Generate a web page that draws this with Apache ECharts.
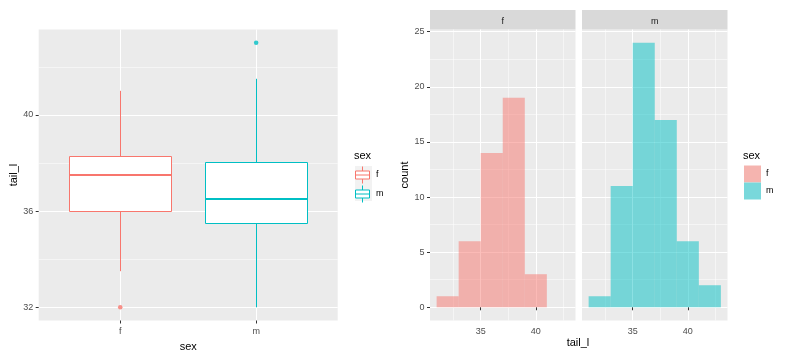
<!DOCTYPE html>
<html><head><meta charset="utf-8">
<script src="https://cdn.jsdelivr.net/npm/echarts@6/dist/echarts.min.js"></script>
<style>html,body{margin:0;padding:0;background:#fff}#c{width:792px;height:360px}</style>
</head><body><div id="c"></div>
<script>
// ---- data ----
const sexes = ['f', 'm'];
const colors = ['#F8766D', '#00BFC4'];
const histFill = ['rgba(248,118,109,0.5)', 'rgba(0,191,196,0.5)'];
const legendFill = ['#F5B4AF', '#79D8DB'];
// boxplot stats: [lower whisker, Q1, median, Q3, upper whisker]
const boxF = [33.5, 36, 37.5, 38.25, 41];
const boxM = [32, 35.5, 36.5, 38, 41.5];
const outliersF = [32];
const outliersM = [43];
const boxYTicks = [32, 36, 40];
const boxYMinor = [34, 38, 42];
const binEdges = [31, 33, 35, 37, 39, 41, 43];
const countsF = [1, 6, 14, 19, 3];
const countsM = [1, 11, 24, 17, 6, 2];
const histXTicks = [35, 40];
const histXMinor = [32.5, 37.5, 42.5];
const histYTicks = [0, 5, 10, 15, 20, 25];
const histYMinor = [2.5, 7.5, 12.5, 17.5, 22.5];

// ---- chart ----
const FONT = '"Liberation Sans", Arial, sans-serif';
const chart = echarts.init(document.getElementById('c'));

function majorAxis(gridIndex, min, max, ticks, opts) {
  opts = opts || {};
  return {
    type: 'value', gridIndex, min, max,
    axisLine: { show: false },
    axisTick: { show: opts.labels !== false, customValues: ticks, length: 3, lineStyle: { color: '#333333', width: 1 } },
    axisLabel: { show: opts.labels !== false, customValues: ticks, margin: opts.margin || 7, color: '#4D4D4D',
      fontSize: 9, fontFamily: FONT, formatter: opts.formatter || (v => String(v)) },
    splitLine: { show: true, lineStyle: { color: '#FFFFFF', width: 1 } },
    name: opts.name, nameLocation: 'middle', nameGap: opts.nameGap,
    nameTextStyle: { color: '#000', fontSize: 11, fontFamily: FONT },
    z: 1
  };
}
function minorAxis(gridIndex, min, max, ticks) {
  return {
    type: 'value', gridIndex, min, max,
    axisLine: { show: false },
    axisTick: { show: false, customValues: ticks },
    axisLabel: { show: false, customValues: ticks },
    splitLine: { show: true, lineStyle: { color: '#FFFFFF', width: 0.5 } },
    z: 0
  };
}

const gridBase = { top: 29.5, height: 291, show: true, backgroundColor: '#EBEBEB', borderWidth: 0, containLabel: false };
const grids = [
  Object.assign({ left: 38.7, width: 299 }, gridBase),
  Object.assign({ left: 430, width: 145.5 }, gridBase),
  Object.assign({ left: 582, width: 145.5 }, gridBase)
];

const xAxes = [
  majorAxis(0, 0.4, 2.6, [1, 2], { formatter: v => sexes[Math.round(v) - 1], name: 'sex', nameGap: 16 }),
  majorAxis(1, 30.4, 43.6, histXTicks),
  minorAxis(1, 30.4, 43.6, histXMinor),
  majorAxis(2, 30.4, 43.6, histXTicks),
  minorAxis(2, 30.4, 43.6, histXMinor)
];
const yAxes = [
  majorAxis(0, 31.45, 43.55, boxYTicks, { name: 'tail_l', nameGap: 11, margin: 5.5 }),
  minorAxis(0, 31.45, 43.55, boxYMinor),
  majorAxis(1, -1.2, 25.2, histYTicks, { name: 'count', nameGap: 15, margin: 5.5 }),
  minorAxis(1, -1.2, 25.2, histYMinor),
  majorAxis(2, -1.2, 25.2, histYTicks, { labels: false }),
  minorAxis(2, -1.2, 25.2, histYMinor)
];

const crisp = v => Math.round(v - 0.5) + 0.5;
function boxRender(color) {
  return function (params, api) {
    const x = api.value(0);
    const pLo = api.coord([x, api.value(1)]);
    const pQ1 = api.coord([x, api.value(2)]);
    const pMed = api.coord([x, api.value(3)]);
    const pQ3 = api.coord([x, api.value(4)]);
    const pHi = api.coord([x, api.value(5)]);
    const hw = api.size([0.75, 0])[0] / 2;
    const cx = crisp(pMed[0]);
    const x0 = crisp(pMed[0] - hw), x1 = crisp(pMed[0] + hw);
    const yQ3 = crisp(pQ3[1]), yQ1 = crisp(pQ1[1]);
    return {
      type: 'group', children: [
        { type: 'line', shape: { x1: cx, y1: pHi[1], x2: cx, y2: yQ3 }, style: { stroke: color, lineWidth: 1 } },
        { type: 'line', shape: { x1: cx, y1: yQ1, x2: cx, y2: pLo[1] }, style: { stroke: color, lineWidth: 1 } },
        { type: 'rect', shape: { x: x0, y: yQ3, width: x1 - x0, height: yQ1 - yQ3 }, style: { fill: '#FFFFFF', stroke: color, lineWidth: 1 } },
        { type: 'line', shape: { x1: x0, y1: Math.round(pMed[1]), x2: x1, y2: Math.round(pMed[1]) }, style: { stroke: color, lineWidth: 2 } }
      ]
    };
  };
}
function histRender(fill) {
  return function (params, api) {
    const p0 = api.coord([api.value(0), api.value(2)]);
    const p1 = api.coord([api.value(1), 0]);
    return { type: 'rect', shape: { x: p0[0], y: p0[1], width: p1[0] - p0[0], height: p1[1] - p0[1] }, style: { fill } };
  };
}
const histData = counts => counts.map((c, i) => [binEdges[i], binEdges[i + 1], c]);

const series = [
  { type: 'custom', name: 'f', xAxisIndex: 0, yAxisIndex: 0, renderItem: boxRender(colors[0]),
    itemStyle: { color: colors[0] }, encode: { x: 0, y: [1, 2, 3, 4, 5] }, data: [[1].concat(boxF)], z: 3 },
  { type: 'custom', name: 'm', xAxisIndex: 0, yAxisIndex: 0, renderItem: boxRender(colors[1]),
    itemStyle: { color: colors[1] }, encode: { x: 0, y: [1, 2, 3, 4, 5] }, data: [[2].concat(boxM)], z: 3 },
  { type: 'scatter', name: 'f', xAxisIndex: 0, yAxisIndex: 0, symbol: 'circle', symbolSize: 4.5, itemStyle: { color: colors[0] },
    data: outliersF.map(v => [1, v]), z: 4, silent: true },
  { type: 'scatter', name: 'm', xAxisIndex: 0, yAxisIndex: 0, symbol: 'circle', symbolSize: 4.5, itemStyle: { color: colors[1] },
    data: outliersM.map(v => [2, v]), z: 4, silent: true },
  { type: 'custom', name: 'f', xAxisIndex: 1, yAxisIndex: 2, renderItem: histRender(histFill[0]),
    itemStyle: { color: histFill[0] }, encode: { x: [0, 1], y: 2 }, data: histData(countsF), z: 3 },
  { type: 'custom', name: 'm', xAxisIndex: 3, yAxisIndex: 4, renderItem: histRender(histFill[1]),
    itemStyle: { color: histFill[1] }, encode: { x: [0, 1], y: 2 }, data: histData(countsM), z: 3 }
];

const boxIcon = 'path://M8.5,0 L8.5,4.5 M1.5,4.5 L15.5,4.5 L15.5,12.5 L1.5,12.5 Z M1.5,8.5 L15.5,8.5 M8.5,12.5 L8.5,17';
const legends = [
  { orient: 'vertical', left: 355, top: 166, padding: 0, itemWidth: 17, itemHeight: 17, itemGap: 1, selectedMode: false,
    textStyle: { fontSize: 9, color: '#000', fontFamily: FONT },
    data: sexes.map((s, i) => ({ name: s, icon: boxIcon, itemStyle: { color: '#FFFFFF', borderColor: colors[i], borderWidth: 1 } })) },
  { orient: 'vertical', left: 744, top: 165.5, padding: 0, itemWidth: 17, itemHeight: 17, itemGap: 0, selectedMode: false,
    textStyle: { fontSize: 9, color: '#000', fontFamily: FONT },
    data: sexes.map((s, i) => ({ name: s, icon: 'rect', itemStyle: { color: legendFill[i], borderWidth: 0 } })) }
];

const graphics = [
  { type: 'rect', shape: { x: 355, y: 166, width: 17, height: 35 }, style: { fill: '#F2F2F2' }, z: 0 },
  { type: 'text', x: 354, y: 155.5, style: { text: 'sex', fontSize: 11, fontFamily: FONT, fill: '#000', textVerticalAlign: 'middle' } },
  { type: 'text', x: 743, y: 155.5, style: { text: 'sex', fontSize: 11, fontFamily: FONT, fill: '#000', textVerticalAlign: 'middle' } },
  { type: 'rect', shape: { x: 430, y: 10, width: 145.5, height: 19.5 }, style: { fill: '#D9D9D9' } },
  { type: 'rect', shape: { x: 582, y: 10, width: 145.5, height: 19.5 }, style: { fill: '#D9D9D9' } },
  { type: 'text', x: 430 + 145.5 / 2, y: 21.5, style: { text: sexes[0], fontSize: 9, fontFamily: FONT, fill: '#1A1A1A', textAlign: 'center', textVerticalAlign: 'middle' } },
  { type: 'text', x: 582 + 145.5 / 2, y: 21.5, style: { text: sexes[1], fontSize: 9, fontFamily: FONT, fill: '#1A1A1A', textAlign: 'center', textVerticalAlign: 'middle' } },
  { type: 'text', x: 578, y: 343, style: { text: 'tail_l', fontSize: 11, fontFamily: FONT, fill: '#000', textAlign: 'center', textVerticalAlign: 'middle' } }
];

chart.setOption({
  animation: false,
  backgroundColor: '#FFFFFF',
  grid: grids,
  xAxis: xAxes,
  yAxis: yAxes,
  series,
  legend: legends,
  graphic: graphics
});
</script></body></html>
